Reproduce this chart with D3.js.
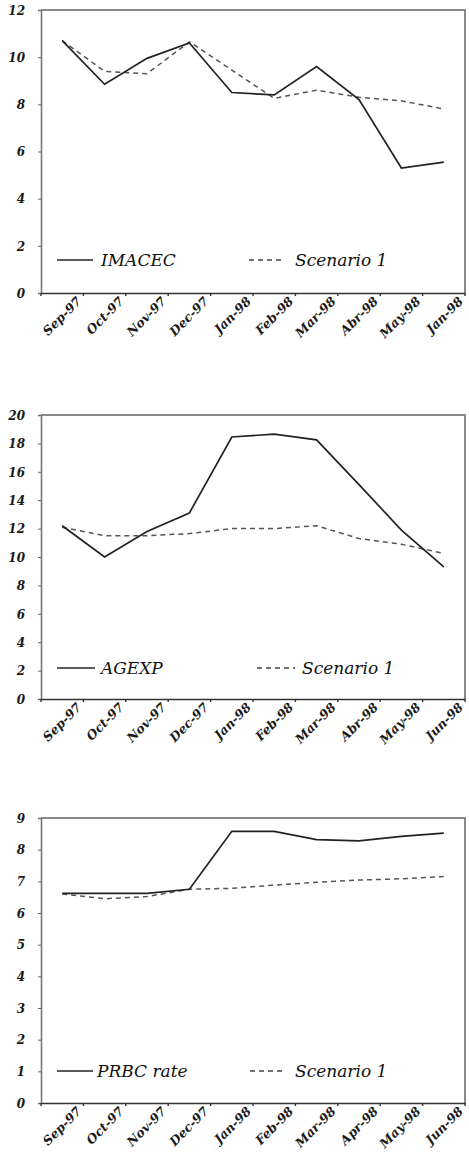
<!DOCTYPE html>
<html>
<head>
<meta charset="utf-8">
<script src="https://cdn.jsdelivr.net/npm/d3@7"></script>
<style>
  body { margin: 0; background: #fff; }
  .tick-label { font-family: 'DejaVu Serif', serif; font-weight: bold; font-style: italic; font-size: 12px; fill: #1a1a1a; }
  .x-label { font-size: 12.5px; }
  .legend-label { font-family: 'DejaVu Serif', serif; font-style: italic; font-size: 17px; fill: #111; }
</style>
</head>
<body>
<div id="chart"></div>
<script>
const monthsA = ['Sep-97', 'Oct-97', 'Nov-97', 'Dec-97', 'Jan-98', 'Feb-98', 'Mar-98', 'Abr-98', 'May-98', 'Jan-98'];
const monthsB = ['Sep-97', 'Oct-97', 'Nov-97', 'Dec-97', 'Jan-98', 'Feb-98', 'Mar-98', 'Abr-98', 'May-98', 'Jun-98'];
const monthsC = ['Sep-97', 'Oct-97', 'Nov-97', 'Dec-97', 'Jan-98', 'Feb-98', 'Mar-98', 'Apr-98', 'May-98', 'Jun-98'];

const imacec = [10.7, 8.85, 9.95, 10.6, 8.5, 8.4, 9.6, 8.2, 5.3, 5.55];
const imacecScenario = [10.7, 9.4, 9.3, 10.65, 9.45, 8.25, 8.6, 8.3, 8.15, 7.8];

const agexp = [12.2, 10.0, 11.8, 13.1, 18.45, 18.65, 18.25, 15.1, 11.9, 9.3];
const agexpScenario = [12.1, 11.5, 11.5, 11.65, 12.0, 12.0, 12.2, 11.3, 10.9, 10.25];

const prbc = [6.62, 6.62, 6.62, 6.75, 8.58, 8.58, 8.32, 8.28, 8.42, 8.52];
const prbcScenario = [6.6, 6.45, 6.52, 6.75, 6.78, 6.88, 6.97, 7.04, 7.08, 7.15];

const yTicksA = [0, 2, 4, 6, 8, 10, 12];
const yTicksB = [0, 2, 4, 6, 8, 10, 12, 14, 16, 18, 20];
const yTicksC = [0, 1, 2, 3, 4, 5, 6, 7, 8, 9];

const width = 469;
const height = 1160;

const svg = d3.select('#chart')
  .append('svg')
  .attr('width', width)
  .attr('height', height);

const drawPanel = (opts) => {
  const { months, solid, dashed, yTicks, yMax, top, bottom, solidName, legendY, legend } = opts;
  const left = 41;
  const right = 465;

  const xScale = d3.scaleBand()
    .domain(d3.range(months.length))
    .range([left, right]);

  const yScale = d3.scaleLinear()
    .domain([0, yMax])
    .range([bottom, top]);

  const g = svg.append('g');

  // frame: top and right borders
  g.append('path')
    .attr('d', `M${left},${top}H${right}V${bottom}`)
    .attr('fill', 'none')
    .attr('stroke', '#8a8a8a')
    .attr('stroke-width', 2);

  // y axis
  const yAxis = d3.axisLeft(yScale)
    .tickValues(yTicks)
    .tickSize(3)
    .tickFormat(d3.format('d'));

  const yAxisGroup = g.append('g')
    .attr('transform', `translate(${left},0)`)
    .call(yAxis)
    .attr('font-family', null)
    .attr('font-size', null);
  yAxisGroup.select('.domain').attr('stroke', '#777').attr('stroke-width', 1.6);
  yAxisGroup.selectAll('.tick line').attr('stroke', '#666');
  yAxisGroup.selectAll('.tick text')
    .attr('class', 'tick-label')
    .style('font-style', 'italic')
    .style('font-weight', 'bold')
    .attr('x', -16)
    .attr('dy', '0.35em');

  // x axis
  const xAxis = d3.axisBottom(xScale)
    .tickSize(0)
    .tickFormat('');

  const xAxisGroup = g.append('g')
    .attr('transform', `translate(0,${bottom})`)
    .call(xAxis);
  xAxisGroup.select('.domain').attr('stroke', '#333').attr('stroke-width', 1.6);

  const bandEdges = d3.range(months.length + 1).map((i) => left + i * xScale.step());
  xAxisGroup.selectAll('.edge-tick')
    .data(bandEdges)
    .join('line')
    .attr('class', 'edge-tick')
    .attr('x1', (d) => d)
    .attr('x2', (d) => d)
    .attr('y1', 0)
    .attr('y2', 3)
    .attr('stroke', '#333')
    .attr('stroke-width', 1.4);

  g.append('g')
    .selectAll('text')
    .data(months)
    .join('text')
    .attr('class', 'tick-label x-label')
    .attr('text-anchor', 'end')
    .attr('transform', (d, i) => {
      const x = xScale(i) + xScale.bandwidth() / 2 + 20;
      return `translate(${x},${bottom + 9}) rotate(-45)`;
    })
    .text((d) => d);

  const line = d3.line()
    .x((d, i) => xScale(i) + xScale.bandwidth() / 2)
    .y((d) => yScale(d));

  g.append('path')
    .datum(dashed)
    .attr('d', line)
    .attr('fill', 'none')
    .attr('stroke', '#555')
    .attr('stroke-width', 1.5)
    .attr('stroke-dasharray', '5,4');

  g.append('path')
    .datum(solid)
    .attr('d', line)
    .attr('fill', 'none')
    .attr('stroke', '#222')
    .attr('stroke-width', 1.7);

  // legend
  const lg = g.append('g').attr('transform', `translate(0,${legendY})`);
  lg.append('line')
    .attr('x1', legend.solidX1).attr('x2', legend.solidX2)
    .attr('stroke', '#222').attr('stroke-width', 1.6);
  lg.append('text')
    .attr('class', 'legend-label')
    .attr('x', legend.solidText)
    .attr('dy', '0.35em')
    .text(solidName);
  lg.append('line')
    .attr('x1', legend.dashX1).attr('x2', legend.dashX2)
    .attr('stroke', '#444').attr('stroke-width', 1.5)
    .attr('stroke-dasharray', '5,4');
  lg.append('text')
    .attr('class', 'legend-label')
    .attr('x', legend.dashText)
    .attr('dy', '0.35em')
    .text('Scenario 1');
};

drawPanel({
  months: monthsA, solid: imacec, dashed: imacecScenario,
  yTicks: yTicksA, yMax: 12, top: 10, bottom: 293,
  solidName: 'IMACEC', legendY: 260,
  legend: { solidX1: 57, solidX2: 93, solidText: 101, dashX1: 249, dashX2: 283, dashText: 295 }
});

drawPanel({
  months: monthsB, solid: agexp, dashed: agexpScenario,
  yTicks: yTicksB, yMax: 20, top: 415, bottom: 699,
  solidName: 'AGEXP', legendY: 668,
  legend: { solidX1: 57, solidX2: 95, solidText: 101, dashX1: 257, dashX2: 295, dashText: 302 }
});

drawPanel({
  months: monthsC, solid: prbc, dashed: prbcScenario,
  yTicks: yTicksC, yMax: 9, top: 818, bottom: 1103,
  solidName: 'PRBC rate', legendY: 1071,
  legend: { solidX1: 57, solidX2: 93, solidText: 97, dashX1: 250, dashX2: 283, dashText: 295 }
});
</script>
</body>
</html>
